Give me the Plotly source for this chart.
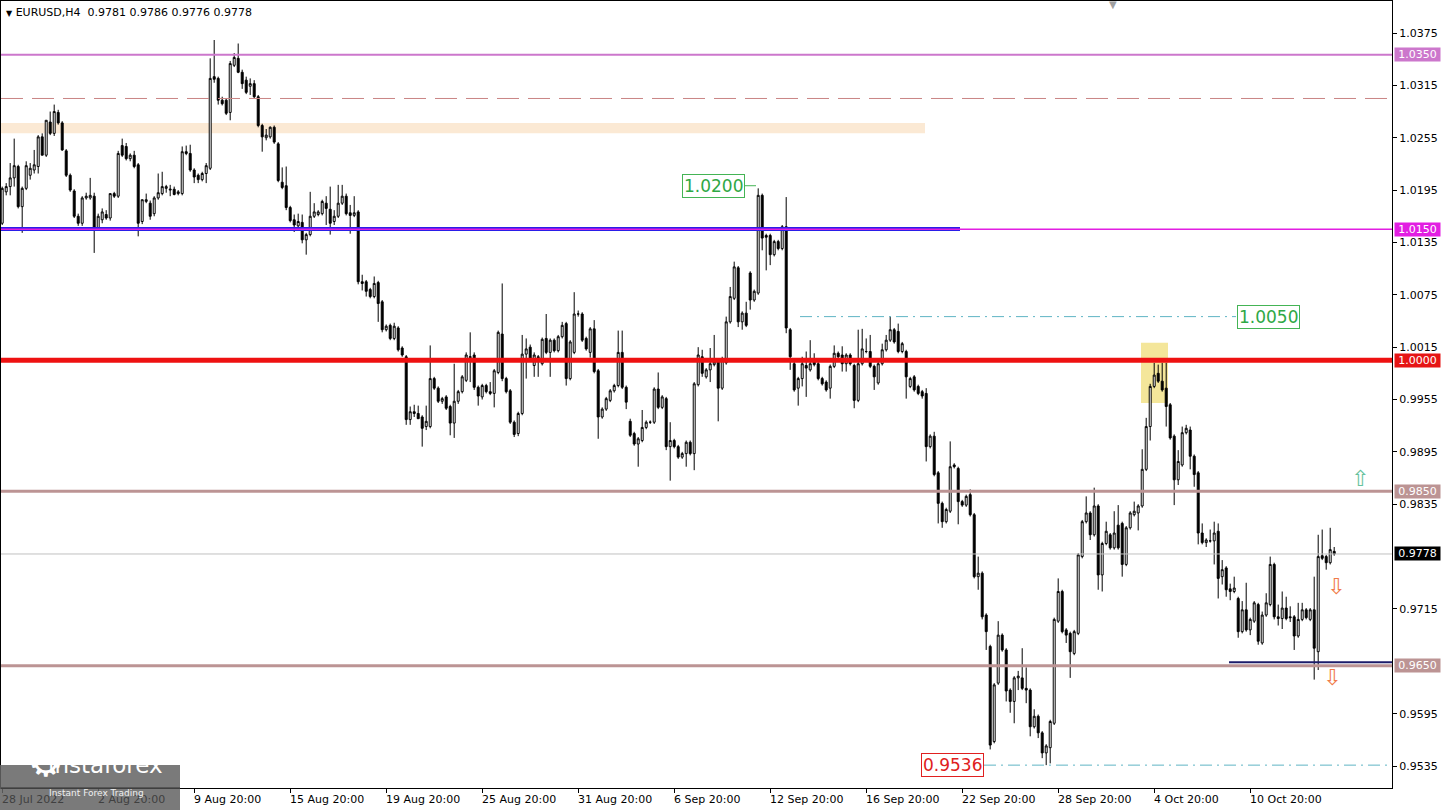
import plotly.graph_objects as go

# EURUSD H4 bars, oldest first, in pips (price x 10000)
opens = [
    10157, 10193, 10199, 10209, 10222, 10176, 10197, 10212, 10218, 10222,
    10256, 10235, 10273, 10260, 10284, 10272, 10240, 10212, 10194, 10165,
    10157, 10186, 10186, 10188, 10151, 10161, 10167, 10163, 10191, 10188,
    10246, 10245, 10231, 10235, 10224, 10159, 10182, 10180, 10168, 10186,
    10191, 10197, 10195, 10196, 10191, 10191, 10239, 10237, 10218, 10212,
    10207, 10214, 10220, 10325, 10323, 10298, 10298, 10284, 10338, 10346,
    10330, 10321, 10314, 10317, 10302, 10269, 10255, 10256, 10267, 10248,
    10204, 10200, 10175, 10161, 10154, 10158, 10138, 10144, 10165, 10167,
    10168, 10180, 10173, 10159, 10165, 10180, 10188, 10169, 10166, 10170,
    10090, 10090, 10081, 10073, 10089, 10067, 10035, 10040, 10025, 10037,
    10014, 10004, 9932, 9941, 9939, 9935, 9924, 9924, 9979, 9968,
    9953, 9958, 9947, 9928, 9953, 9964, 9977, 10003, 10006, 9969,
    9958, 9971, 9964, 9962, 9986, 10030, 9979, 9965, 9929, 9916,
    9939, 10007, 10015, 9994, 10004, 9996, 10025, 10009, 10023, 10011,
    10027, 10042, 9979, 10009, 10053, 10053, 10025, 10009, 10036, 9988,
    9935, 9944, 9954, 9965, 9971, 10009, 9969, 9930, 9916, 9904,
    9908, 9923, 9929, 9929, 9967, 9946, 9956, 9901, 9908, 9901,
    9889, 9893, 9906, 9893, 9972, 10004, 9981, 9989, 9995, 9998,
    9968, 9997, 10044, 10071, 10106, 10044, 10054, 10100, 10069, 10077,
    10189, 10143, 10143, 10121, 10136, 10128, 10153, 10035, 9996, 9968,
    9979, 9994, 9989, 9998, 9996, 9979, 9975, 9968, 9993, 10008,
    10006, 9996, 10006, 9994, 9954, 9996, 10010, 10010, 9993, 9974,
    9996, 10012, 10023, 10035, 10033, 10010, 10010, 9970, 9981, 9970,
    9964, 9962, 9901, 9913, 9871, 9836, 9815, 9827, 9880, 9876,
    9838, 9834, 9846, 9823, 9752, 9756, 9708, 9672, 9563, 9630,
    9685, 9668, 9622, 9609, 9636, 9636, 9624, 9622, 9580, 9592,
    9573, 9550, 9556, 9584, 9701, 9735, 9691, 9687, 9664, 9687,
    9775, 9815, 9825, 9800, 9833, 9754, 9790, 9800, 9785, 9811,
    9813, 9766, 9808, 9823, 9825, 9833, 9875, 9924, 9970, 9985,
    9976, 9968, 9949, 9913, 9863, 9880, 9917, 9920, 9890, 9871,
    9802, 9791, 9793, 9793, 9804, 9752, 9762, 9738, 9735, 9727,
    9689, 9714, 9691, 9701, 9720, 9676, 9708, 9720, 9766, 9706,
    9704, 9716, 9706, 9706, 9684, 9703, 9714, 9703, 9714, 9666,
    9776, 9775, 9768, 9781,
]
highs = [
    10199, 10203, 10226, 10254, 10224, 10199, 10228, 10226, 10241, 10258,
    10260, 10275, 10285, 10293, 10287, 10274, 10242, 10214, 10196, 10168,
    10188, 10192, 10209, 10192, 10168, 10174, 10172, 10191, 10193, 10240,
    10254, 10249, 10237, 10240, 10226, 10184, 10191, 10183, 10188, 10214,
    10216, 10201, 10201, 10199, 10195, 10245, 10246, 10247, 10220, 10214,
    10216, 10226, 10346, 10367, 10325, 10302, 10300, 10343, 10352, 10363,
    10333, 10325, 10323, 10321, 10304, 10271, 10265, 10268, 10269, 10250,
    10221, 10222, 10177, 10167, 10168, 10167, 10146, 10193, 10180, 10172,
    10184, 10188, 10199, 10172, 10201, 10201, 10191, 10178, 10188, 10172,
    10098, 10092, 10083, 10096, 10091, 10069, 10041, 10042, 10043, 10039,
    10016, 10006, 9947, 9949, 9948, 9937, 9948, 10017, 9981, 9970,
    9958, 9960, 9949, 9996, 9966, 9983, 10009, 10032, 10009, 9971,
    9973, 9973, 9975, 9990, 10034, 10088, 9981, 9967, 9931, 9941,
    10029, 10025, 10018, 10009, 10006, 10026, 10053, 10025, 10025, 10029,
    10044, 10044, 10023, 10078, 10057, 10055, 10027, 10038, 10046, 9990,
    9946, 9958, 9967, 9973, 10034, 10034, 9971, 9933, 9918, 9912,
    9943, 9931, 9931, 9969, 9986, 9960, 9958, 9929, 9910, 9903,
    9895, 9908, 9908, 9975, 10015, 10012, 9991, 10014, 10029, 10000,
    10004, 10050, 10084, 10113, 10108, 10056, 10067, 10102, 10081, 10197,
    10191, 10145, 10145, 10138, 10138, 10155, 10187, 10037, 9998, 9981,
    10004, 10010, 10023, 10008, 9998, 9981, 9977, 9995, 10017, 10010,
    10016, 10008, 10008, 9996, 10035, 10036, 10025, 10029, 9995, 9998,
    10019, 10029, 10050, 10037, 10042, 10021, 10012, 9981, 9983, 9972,
    9966, 9968, 9915, 9918, 9873, 9838, 9831, 9907, 9882, 9878,
    9840, 9846, 9852, 9825, 9775, 9758, 9710, 9674, 9630, 9701,
    9687, 9670, 9624, 9638, 9644, 9670, 9648, 9624, 9600, 9594,
    9575, 9560, 9588, 9705, 9750, 9737, 9693, 9689, 9691, 9779,
    9817, 9844, 9827, 9854, 9835, 9792, 9815, 9802, 9827, 9834,
    9815, 9810, 9827, 9838, 9835, 9898, 9934, 9973, 9997, 9995,
    9997, 9997, 9951, 9915, 9897, 9924, 9926, 9924, 9892, 9873,
    9813, 9796, 9806, 9815, 9813, 9771, 9764, 9744, 9752, 9729,
    9724, 9745, 9705, 9724, 9722, 9712, 9733, 9775, 9768, 9720,
    9735, 9729, 9718, 9708, 9722, 9722, 9716, 9716, 9752, 9800,
    9806, 9777, 9808, 9786,
]
lows = [
    10155, 10189, 10189, 10199, 10174, 10146, 10195, 10207, 10214, 10214,
    10235, 10233, 10258, 10257, 10270, 10240, 10210, 10193, 10163, 10154,
    10154, 10184, 10184, 10123, 10149, 10157, 10161, 10160, 10186, 10186,
    10233, 10229, 10228, 10220, 10142, 10156, 10180, 10161, 10165, 10184,
    10189, 10192, 10188, 10189, 10189, 10189, 10235, 10216, 10203, 10203,
    10205, 10203, 10218, 10318, 10293, 10292, 10281, 10275, 10336, 10329,
    10311, 10305, 10304, 10300, 10267, 10239, 10252, 10254, 10248, 10204,
    10196, 10172, 10158, 10147, 10149, 10134, 10121, 10142, 10163, 10165,
    10166, 10155, 10144, 10155, 10163, 10178, 10166, 10145, 10164, 10087,
    10080, 10073, 10071, 10071, 10044, 10032, 10033, 10023, 10023, 10010,
    10004, 9926, 9926, 9935, 9933, 9901, 9920, 9922, 9966, 9951,
    9950, 9943, 9914, 9911, 9950, 9962, 9975, 9975, 9966, 9948,
    9955, 9962, 9960, 9946, 9984, 9976, 9962, 9927, 9912, 9913,
    9937, 9979, 9999, 9981, 9981, 9994, 10007, 9981, 10009, 10009,
    10025, 9971, 9977, 10007, 10050, 10021, 10011, 10003, 9985, 9910,
    9933, 9942, 9952, 9963, 9969, 9967, 9944, 9912, 9902, 9878,
    9906, 9921, 9927, 9927, 9944, 9944, 9897, 9862, 9899, 9887,
    9887, 9878, 9891, 9874, 9970, 9981, 9979, 9975, 9993, 9930,
    9966, 9995, 10042, 10069, 10038, 10035, 10038, 10058, 10067, 10075,
    10126, 10103, 10109, 10119, 10126, 10126, 10031, 9989, 9964, 9948,
    9970, 9958, 9987, 9993, 9977, 9971, 9964, 9956, 9991, 10002,
    9987, 9987, 9994, 9945, 9952, 9994, 10008, 9991, 9966, 9972,
    9994, 10010, 10021, 10019, 10008, 10008, 9956, 9968, 9964, 9960,
    9956, 9884, 9899, 9867, 9813, 9808, 9813, 9825, 9876, 9812,
    9832, 9832, 9821, 9750, 9737, 9703, 9668, 9554, 9561, 9628,
    9666, 9609, 9596, 9584, 9622, 9622, 9607, 9569, 9578, 9567,
    9544, 9536, 9538, 9582, 9699, 9687, 9676, 9636, 9662, 9685,
    9773, 9813, 9794, 9798, 9737, 9735, 9788, 9783, 9783, 9783,
    9752, 9764, 9806, 9821, 9805, 9831, 9873, 9908, 9968, 9974,
    9964, 9924, 9909, 9834, 9857, 9878, 9915, 9875, 9855, 9789,
    9789, 9786, 9791, 9766, 9727, 9743, 9729, 9725, 9733, 9682,
    9687, 9689, 9685, 9699, 9674, 9674, 9706, 9718, 9703, 9696,
    9692, 9702, 9700, 9668, 9682, 9701, 9703, 9701, 9634, 9645,
    9771, 9760, 9766, 9776,
]
closes = [
    10197, 10199, 10209, 10223, 10176, 10197, 10223, 10220, 10224, 10256,
    10235, 10275, 10260, 10285, 10272, 10241, 10212, 10195, 10165, 10157,
    10186, 10188, 10189, 10151, 10165, 10170, 10163, 10191, 10188, 10237,
    10235, 10231, 10235, 10222, 10157, 10184, 10184, 10165, 10186, 10192,
    10199, 10199, 10196, 10190, 10193, 10239, 10237, 10218, 10210, 10207,
    10214, 10223, 10323, 10322, 10298, 10294, 10283, 10340, 10347, 10330,
    10317, 10307, 10317, 10302, 10269, 10256, 10258, 10267, 10250, 10206,
    10198, 10175, 10160, 10155, 10159, 10138, 10144, 10165, 10170, 10170,
    10182, 10174, 10157, 10165, 10180, 10188, 10168, 10166, 10169, 10090,
    10088, 10079, 10073, 10088, 10065, 10035, 10039, 10025, 10039, 10012,
    10006, 9932, 9941, 9939, 9933, 9922, 9930, 9979, 9968, 9953,
    9956, 9945, 9928, 9953, 9964, 9981, 10006, 10004, 9969, 9959,
    9971, 9964, 9962, 9988, 10032, 9979, 9964, 9929, 9915, 9939,
    10007, 10013, 10002, 10006, 10003, 10024, 10009, 10023, 10011, 10027,
    10040, 9979, 10021, 10053, 10053, 10023, 10013, 10036, 9987, 9935,
    9944, 9956, 9965, 9971, 10009, 9969, 9952, 9914, 9904, 9910,
    9923, 9929, 9929, 9967, 9946, 9958, 9901, 9908, 9901, 9889,
    9893, 9906, 9893, 9973, 10006, 9985, 9989, 9996, 9998, 9968,
    10002, 10044, 10073, 10107, 10044, 10054, 10040, 10069, 10079, 10189,
    10140, 10141, 10121, 10136, 10128, 10153, 10037, 10004, 9966, 9979,
    9996, 9991, 9996, 9995, 9979, 9973, 9966, 9993, 10008, 10004,
    9996, 10006, 9996, 9954, 9996, 10013, 10010, 9993, 9981, 9996,
    10012, 10023, 10035, 10021, 10010, 10019, 9981, 9979, 9966, 9962,
    9959, 9901, 9913, 9869, 9836, 9815, 9829, 9878, 9878, 9838,
    9834, 9844, 9823, 9752, 9756, 9706, 9689, 9559, 9628, 9685,
    9668, 9621, 9609, 9636, 9638, 9624, 9622, 9580, 9592, 9573,
    9550, 9558, 9586, 9703, 9735, 9689, 9685, 9666, 9689, 9777,
    9815, 9825, 9800, 9833, 9754, 9790, 9804, 9785, 9802, 9785,
    9766, 9808, 9825, 9827, 9833, 9875, 9924, 9970, 9983, 9976,
    9966, 9947, 9911, 9863, 9884, 9917, 9922, 9890, 9869, 9802,
    9791, 9794, 9793, 9802, 9750, 9760, 9737, 9735, 9739, 9689,
    9714, 9691, 9703, 9722, 9678, 9708, 9722, 9766, 9706, 9704,
    9716, 9704, 9705, 9684, 9703, 9714, 9705, 9714, 9670, 9775,
    9773, 9768, 9783, 9778,
]

# time axis: bar index of each label and its text
date_ticks = [0, 24, 48, 72, 96, 120, 144, 168, 192, 216, 240, 264, 288, 312]
date_labels = ["28 Jul 2022", "2 Aug 20:00", "9 Aug 20:00", "15 Aug 20:00",
               "19 Aug 20:00", "25 Aug 20:00", "31 Aug 20:00", "6 Sep 20:00",
               "12 Sep 20:00", "16 Sep 20:00", "22 Sep 20:00", "28 Sep 20:00",
               "4 Oct 20:00", "10 Oct 20:00"]

# price scale labels (0.9775 and 0.9655 sit under the level boxes)
price_ticks = [1.0375, 1.0315, 1.0255, 1.0195, 1.0135, 1.0075, 1.0015,
               0.9955, 0.9895, 0.9835, 0.9715, 0.9595, 0.9535]

# levels marked on the chart
level_top = 1.0350
level_dashed = 1.0300
level_blue = 1.0150
level_parity = 1.0000
level_upper = 0.9850
level_lower = 0.9650
last_price = 0.9778
target_high = 1.0200
target_mid = 1.0050
low_mark = 0.9536

PIP = 0.0001
bars = list(range(len(opens)))
o = [v * PIP for v in opens]
h = [v * PIP for v in highs]
l = [v * PIP for v in lows]
c = [v * PIP for v in closes]

# plot area is 1391 px wide, 4 px per bar
X0, X1 = -0.3, 347.45
Y0, Y1 = 0.95098, 1.04117


def px_to_bar(p):
    return X0 + (p - 1) / 4.0


def px_to_paper_x(p):
    return (p - 1) / 1391.0


def px_to_paper_y(p):
    return (788 - p) / 787.0


fig = go.Figure()

fig.add_trace(go.Candlestick(
    x=bars, open=o, high=h, low=l, close=c,
    increasing=dict(line=dict(color='black', width=1), fillcolor='white'),
    decreasing=dict(line=dict(color='black', width=1), fillcolor='black'),
    whiskerwidth=0,
    hoverinfo='x+y',
))

shapes = []
# background zones
shapes.append(dict(type='rect', xref='x', yref='y', x0=X0, x1=px_to_bar(925),
                   y0=1.0260, y1=1.0272, fillcolor='#fbe9d4',
                   line=dict(width=0), layer='below'))
shapes.append(dict(type='rect', xref='x', yref='y', x0=px_to_bar(1141), x1=px_to_bar(1168),
                   y0=0.9951, y1=1.0020, fillcolor='rgba(240,222,120,0.75)',
                   line=dict(width=0), layer='below'))


def hline(y, color, width, dash='solid', x0=None, x1=None):
    if x0 is None and x1 is None:
        return dict(type='line', xref='paper', yref='y', x0=0, x1=1, y0=y, y1=y,
                    line=dict(color=color, width=width, dash=dash), layer='above')
    return dict(type='line', xref='x', yref='y',
                x0=X0 if x0 is None else x0, x1=X1 if x1 is None else x1,
                y0=y, y1=y, line=dict(color=color, width=width, dash=dash), layer='above')


shapes.append(hline(last_price, '#c0c0c0', 1))
shapes.append(hline(level_top, '#cc77cc', 2))
shapes.append(hline(level_dashed, '#c98484', 1, dash='22px,9px'))
shapes.append(hline(level_blue + 0.00005, '#2a1ee8', 4, x1=px_to_bar(960)))
shapes.append(hline(level_blue, '#e21ee2', 1.5))
shapes.append(hline(level_parity, '#ee1111', 5))
shapes.append(hline(level_upper, '#bc9494', 3))
shapes.append(hline(level_lower, '#bc9494', 3))
shapes.append(hline(0.9654, '#1c1c6a', 2, x0=px_to_bar(1229)))
shapes.append(hline(target_mid, '#5fb4c4', 1, dash='12px,5px,2px,5px',
                    x0=px_to_bar(800), x1=px_to_bar(1236)))
shapes.append(hline(low_mark, '#5fb4c4', 1, dash='12px,5px,2px,5px',
                    x0=px_to_bar(984)))
shapes.append(hline(target_high, '#44b455', 1, x0=px_to_bar(745), x1=px_to_bar(756)))

# logo box over the bottom-left corner (semi transparent, axis line shows through)
shapes.append(dict(type='rect', xref='paper', yref='paper',
                   x0=px_to_paper_x(0), x1=px_to_paper_x(180),
                   y0=px_to_paper_y(765), y1=px_to_paper_y(810),
                   fillcolor='rgba(100,100,100,0.86)', line=dict(width=0), layer='above'))
shapes.append(dict(type='line', xref='paper', yref='paper',
                   x0=0, x1=px_to_paper_x(180), y0=0, y1=0,
                   line=dict(color='rgba(30,30,30,0.8)', width=1), layer='above'))

annotations = []
annotations.append(dict(
    xref='paper', yref='paper', x=0, y=1, xanchor='left', yanchor='top',
    xshift=3, yshift=-3, showarrow=False,
    text='<span style="font-size:8px">▼</span> EURUSD,H4&nbsp;&nbsp;0.9781 0.9786 0.9776 0.9778',
    font=dict(size=11, color='black')))
annotations.append(dict(
    xref='x', yref='paper', x=px_to_bar(1113), y=1, yanchor='top', yshift=4,
    showarrow=False, text='▼', font=dict(size=10, color='#a0a0a0')))

# date labels, left aligned on their tick
for t, lab in zip(date_ticks, date_labels):
    annotations.append(dict(
        xref='x', yref='paper', x=t, y=0, xanchor='left', yanchor='top',
        xshift=-2, yshift=-3, showarrow=False, text=lab,
        font=dict(size=11, color='#404040' if t < 40 else 'black')))

# price boxes on the right scale
for val, bg in [(level_top, '#cc77cc'), (level_blue, '#e21ee2'),
                (level_parity, '#e61515'), (level_upper, '#bc9494'),
                (last_price, '#000000'), (level_lower, '#bc9494')]:
    annotations.append(dict(
        xref='paper', yref='y', x=1, y=val, xanchor='left', xshift=2,
        showarrow=False, text=f'{val:.4f}', bgcolor=bg, width=45, height=13,
        borderpad=0, font=dict(size=11, color='white')))

# text labels on the chart
annotations.append(dict(
    xref='x', yref='y', x=px_to_bar(745), y=target_high, xanchor='right',
    showarrow=False, text=f'{target_high:.4f}', bgcolor='white',
    bordercolor='#44b455', borderwidth=1, borderpad=1,
    font=dict(size=17, color='#2fa845')))
annotations.append(dict(
    xref='x', yref='y', x=px_to_bar(1237), y=target_mid, xanchor='left',
    showarrow=False, text=f'{target_mid:.4f}', bgcolor='white',
    bordercolor='#44b455', borderwidth=1, borderpad=1,
    font=dict(size=17, color='#2fa845')))
annotations.append(dict(
    xref='x', yref='y', x=px_to_bar(984), y=low_mark, xanchor='right',
    showarrow=False, text=f'{low_mark:.4f}', bgcolor='white',
    bordercolor='#e02020', borderwidth=1, borderpad=1,
    font=dict(size=17, color='#e02020')))

# direction arrows
annotations.append(dict(xref='x', yref='y', x=px_to_bar(1360), y=0.9865,
                        showarrow=False, text='⇧', font=dict(size=22, color='#66c29c')))
annotations.append(dict(xref='x', yref='y', x=px_to_bar(1336), y=0.9741,
                        showarrow=False, text='⇩', font=dict(size=22, color='#f07a48')))
annotations.append(dict(xref='x', yref='y', x=px_to_bar(1332), y=0.9636,
                        showarrow=False, text='⇩', font=dict(size=22, color='#f07a48')))

# logo text
annotations.append(dict(xref='paper', yref='paper', x=px_to_paper_x(26), y=px_to_paper_y(787),
                        showarrow=False, text='⚙', font=dict(size=40, color='white')))
annotations.append(dict(xref='paper', yref='paper', x=px_to_paper_x(46), y=px_to_paper_y(780),
                        xanchor='left', showarrow=False, text='instaforex',
                        font=dict(family='DejaVu Sans', size=23, color='white')))
annotations.append(dict(xref='paper', yref='paper', x=px_to_paper_x(47), y=px_to_paper_y(800),
                        xanchor='left', showarrow=False, text='Instant Forex Trading',
                        font=dict(family='DejaVu Sans', size=9, color='#f0f0f0')))

fig.update_layout(
    width=1445, height=810,
    margin=dict(l=1, r=53, t=1, b=22, autoexpand=False),
    paper_bgcolor='white', plot_bgcolor='white',
    showlegend=False,
    font=dict(family='DejaVu Sans', size=11, color='black'),
    shapes=shapes,
    annotations=annotations,
    xaxis_rangeslider_visible=False,
)
fig.update_xaxes(
    range=[X0, X1], showgrid=False, zeroline=False,
    showline=True, linecolor='black', linewidth=1, mirror=True,
    tickvals=date_ticks, ticks='outside', ticklen=4, tickcolor='black',
    showticklabels=False,
)
fig.update_yaxes(
    range=[Y0, Y1], side='right', showgrid=False, zeroline=False,
    showline=True, linecolor='black', linewidth=1, mirror=True,
    tickvals=price_ticks, ticktext=[f'{v:.4f}' for v in price_ticks],
    ticks='outside', ticklen=4, tickcolor='black',
)

# drop the page's default body margin so the chart sits at the window corner
fig.write_html("out.html", config={'displayModeBar': False},
               post_script="document.body.style.margin='0';")
